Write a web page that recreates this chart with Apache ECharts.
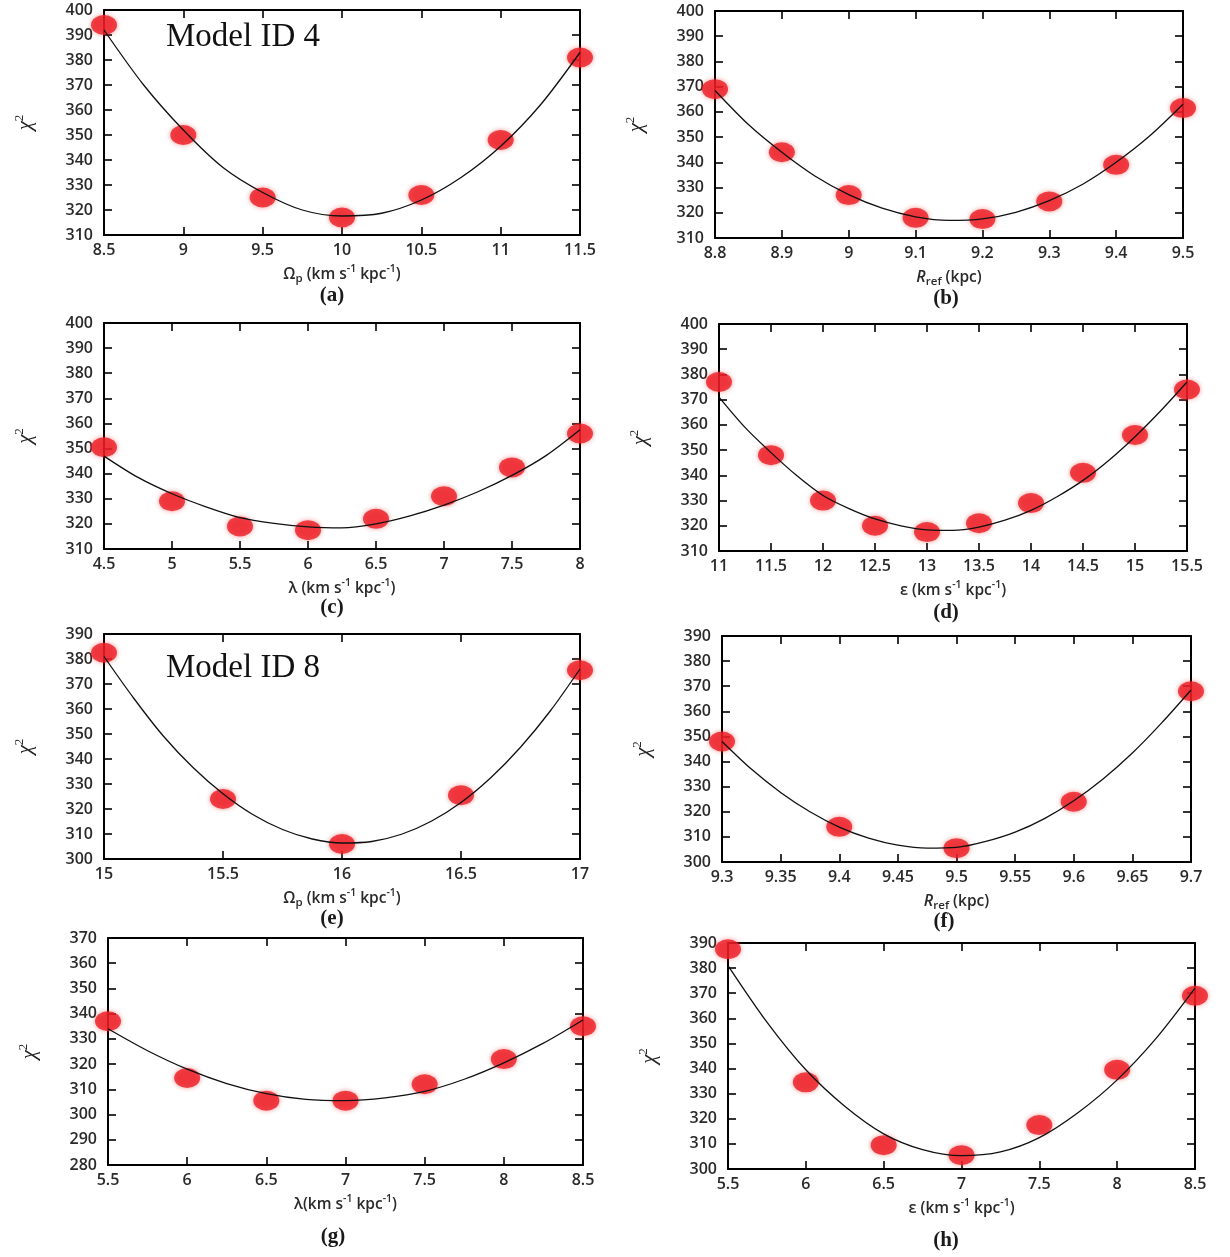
<!DOCTYPE html>
<html>
<head>
<meta charset="utf-8">
<script src="https://cdn.jsdelivr.net/npm/echarts@6/dist/echarts.min.js"></script>
<style>html,body{margin:0;padding:0;background:#fff}#c{width:1230px;height:1257px}</style>
</head>
<body>
<div id="c"></div>
<script>
// ---------- DATA ----------
// (a) Model ID 4, pattern speed
const aX = [8.5, 9, 9.5, 10, 10.5, 11, 11.5];
const aChi = [394, 350, 325, 317, 326, 348, 381];
const aFitX = [8.5, 8.75, 9, 9.25, 9.5, 9.75, 10, 10.25, 10.5, 10.75, 11, 11.25, 11.5];
const aFitY = [392, 370, 352, 337, 327, 320, 317.6, 318.7, 324, 333, 345.5, 362, 383];
// (b) Model ID 4, R_ref
const bX = [8.8, 8.9, 9.0, 9.1, 9.2, 9.3, 9.4, 9.5];
const bChi = [369, 344, 327, 318, 317.5, 324.5, 339, 361.5];
const bFitX = [8.8, 8.85, 8.9, 8.95, 9.0, 9.05, 9.1, 9.15, 9.2, 9.25, 9.3, 9.35, 9.4, 9.45, 9.5];
const bFitY = [368.5, 355, 344, 334.5, 327.2, 321.8, 318.4, 317, 317.6, 320.2, 324.8, 331.3, 340, 350.4, 363];
// (c) Model ID 4, lambda
const cX = [4.5, 5, 5.5, 6, 6.5, 7, 7.5, 8];
const cChi = [350.5, 329, 319, 317.5, 322, 331, 342.5, 356];
const cFitX = [4.5, 4.75, 5, 5.25, 5.5, 5.75, 6, 6.25, 6.5, 6.75, 7, 7.25, 7.5, 7.75, 8];
const cFitY = [347, 338.5, 332, 326.8, 322.5, 320.2, 318.8, 318.4, 320, 323.2, 327.5, 332.8, 339.3, 347.2, 357.5];
// (d) Model ID 4, epsilon
const dX = [11, 11.5, 12, 12.5, 13, 13.5, 14, 14.5, 15, 15.5];
const dChi = [377, 348, 330, 320, 317.5, 321, 329, 341, 356, 374];
const dFitX = [11, 11.25, 11.5, 11.75, 12, 12.25, 12.5, 12.75, 13, 13.25, 13.5, 13.75, 14, 14.25, 14.5, 14.75, 15, 15.25, 15.5];
const dFitY = [371, 359, 349, 339.8, 332, 326.8, 322.7, 320, 318.4, 318.2, 319.5, 322.2, 326.1, 331.5, 338, 346, 355.3, 365.7, 377];
// (e) Model ID 8, pattern speed
const eX = [15, 15.5, 16, 16.5, 17];
const eChi = [382.5, 324, 306, 325.5, 375.5];
const eFitX = [15, 15.125, 15.25, 15.375, 15.5, 15.625, 15.75, 15.875, 16, 16.125, 16.25, 16.375, 16.5, 16.625, 16.75, 16.875, 17];
const eFitY = [381, 364.3, 349.1, 336.5, 326.1, 317.8, 311.8, 308, 306.4, 307, 309.9, 315.1, 322.6, 332.5, 344.7, 359.2, 376];
// (f) Model ID 8, R_ref
const fX = [9.3, 9.4, 9.5, 9.6, 9.7];
const fChi = [348, 314, 305.5, 324, 368];
const fFitX = [9.3, 9.325, 9.35, 9.375, 9.4, 9.425, 9.45, 9.475, 9.5, 9.525, 9.55, 9.575, 9.6, 9.625, 9.65, 9.675, 9.7];
const fFitY = [348, 337, 327.7, 320, 313.9, 309.5, 306.7, 305.5, 305.8, 308.2, 311.9, 317.3, 324.4, 333.1, 343.4, 355.4, 368.5];
// (g) Model ID 8, lambda
const gX = [5.5, 6, 6.5, 7, 7.5, 8, 8.5];
const gChi = [337, 314.5, 305.5, 305.5, 312, 322, 335];
const gFitX = [5.5, 5.75, 6, 6.25, 6.5, 6.75, 7, 7.25, 7.5, 7.75, 8, 8.25, 8.5];
const gFitY = [334, 325.3, 318, 312.3, 308.3, 306, 305.5, 306.6, 309.2, 314, 320.5, 328.3, 337.5];
// (h) Model ID 8, epsilon
const hX = [5.5, 6, 6.5, 7, 7.5, 8, 8.5];
const hChi = [387.5, 334.5, 309.5, 305.5, 317.5, 339.5, 369];
const hFitX = [5.5, 5.75, 6, 6.25, 6.5, 6.75, 7, 7.25, 7.5, 7.75, 8, 8.25, 8.5];
const hFitY = [381, 358.5, 339.5, 325, 314, 307.7, 305.3, 306.8, 312.5, 322.5, 335.5, 352, 372];

// axis ranges (tick labels)
const xMin = [8.5, 8.8, 4.5, 11, 15, 9.3, 5.5, 5.5];
const xMax = [11.5, 9.5, 8, 15.5, 17, 9.7, 8.5, 8.5];
const xStep = [0.5, 0.1, 0.5, 0.5, 0.5, 0.05, 0.5, 0.5];
const yMin = [310, 310, 310, 310, 300, 300, 280, 300];
const yMax = [400, 400, 400, 400, 390, 390, 370, 390];
const yStep = [10, 10, 10, 10, 10, 10, 10, 10];

const xNames = [
  '{n|Ω}{sub|p}{n| (km s}{sup|-1}{n| kpc}{sup|-1}{n|)}',
  '{it|R}{sub|ref}{n| (kpc)}',
  '{n|λ (km s}{sup|-1}{n| kpc}{sup|-1}{n|)}',
  '{n|ε (km s}{sup|-1}{n| kpc}{sup|-1}{n|)}',
  '{n|Ω}{sub|p}{n| (km s}{sup|-1}{n| kpc}{sup|-1}{n|)}',
  '{it|R}{sub|ref}{n| (kpc)}',
  '{n|λ(km s}{sup|-1}{n| kpc}{sup|-1}{n|)}',
  '{n|ε (km s}{sup|-1}{n| kpc}{sup|-1}{n|)}'
];
const panelLabels = ['(a)', '(b)', '(c)', '(d)', '(e)', '(f)', '(g)', '(h)'];
const modelLabels = ['Model ID 4', 'Model ID 8'];

const ptsX = [aX, bX, cX, dX, eX, fX, gX, hX];
const ptsY = [aChi, bChi, cChi, dChi, eChi, fChi, gChi, hChi];
const fitX = [aFitX, bFitX, cFitX, dFitX, eFitX, fFitX, gFitX, hFitX];
const fitY = [aFitY, bFitY, cFitY, dFitY, eFitY, fFitY, gFitY, hFitY];

// ---------- LAYOUT ----------
const boxes = [
  [104, 10, 476, 225], [715, 11, 468, 227],
  [104, 323, 476, 226], [719, 324, 468, 227],
  [104, 634, 476, 225], [722, 636, 469, 226],
  [108, 938, 475, 227], [728, 943, 467, 226]
];
const labelPos = [[332, 285], [946, 288], [332, 597], [946, 602], [332, 908], [944, 911], [333, 1226], [946, 1230]];

const tickFont = {fontFamily: 'Open Sans', fontSize: 16, fontWeight: 600, color: '#2a2a2a'};
const base = {fontFamily: 'Open Sans', fontWeight: 600, color: '#2a2a2a'};
const nameRich = {
  n: Object.assign({fontSize: 15.5}, base),
  it: Object.assign({fontSize: 16, fontStyle: 'italic'}, base),
  sub: Object.assign({fontSize: 11.5, padding: [9, 0, 0, 0]}, base),
  sup: Object.assign({fontSize: 10.5, padding: [0, 0, 10, 0]}, base)
};

const grid = [], xAxis = [], yAxis = [], series = [], graphic = [];
const lineStyle = {color: '#000', width: 2};
boxes.forEach((b, i) => {
  grid.push({left: b[0], top: b[1], width: b[2], height: b[3], containLabel: false});
  const tick = {show: true, inside: true, length: 8, lineStyle: {color: '#000', width: 1.6}};
  const xBase = {type: 'value', gridIndex: i, min: xMin[i], max: xMax[i], interval: xStep[i],
    splitLine: {show: false}, axisLine: {show: true, onZero: false, lineStyle}, axisTick: tick};
  const yBase = {type: 'value', gridIndex: i, min: yMin[i], max: yMax[i], interval: yStep[i],
    splitLine: {show: false}, axisLine: {show: true, onZero: false, lineStyle}, axisTick: tick};
  xAxis.push(Object.assign({}, xBase, {position: 'bottom',
    axisLabel: Object.assign({margin: 7, showMinLabel: true, showMaxLabel: true, hideOverlap: false}, tickFont),
    name: xNames[i], nameLocation: 'middle', nameGap: 29,
    nameTextStyle: {rich: nameRich}}));
  xAxis.push(Object.assign({}, xBase, {position: 'top', axisLabel: {show: false}}));
  yAxis.push(Object.assign({}, yBase, {position: 'left',
    axisLabel: Object.assign({margin: 11, showMinLabel: true, showMaxLabel: true}, tickFont),
    name: '{c|χ}{s|2}', nameLocation: 'middle', nameRotate: 90, nameGap: 66,
    nameTextStyle: {rich: {c: {fontFamily: 'Liberation Serif', fontStyle: 'italic', fontSize: 21, color: '#222'},
      s: {fontFamily: 'Liberation Serif', fontSize: 13, color: '#222', padding: [0, 0, 12, 0]}}}}));
  yAxis.push(Object.assign({}, yBase, {position: 'right', axisLabel: {show: false}}));

  series.push({type: 'line', xAxisIndex: 2 * i, yAxisIndex: 2 * i, smooth: 0.3, showSymbol: false,
    symbol: 'none', lineStyle: {color: '#111', width: 1.3}, z: 3, silent: true,
    data: fitX[i].map((x, k) => [x, fitY[i][k]])});
  series.push({type: 'scatter', xAxisIndex: 2 * i, yAxisIndex: 2 * i, clip: false,
    symbol: 'circle', symbolSize: [26, 20], z: 2, silent: true,
    itemStyle: {color: '#ec1c24', shadowBlur: 5, shadowColor: 'rgba(240,40,40,0.6)'},
    data: ptsX[i].map((x, k) => [x, ptsY[i][k]])});

  graphic.push({type: 'text', x: labelPos[i][0], y: labelPos[i][1],
    style: {text: panelLabels[i], font: 'bold 21px "Liberation Serif"', fill: '#1a1a1a', textAlign: 'center'}});
});
graphic.push({type: 'text', left: 166, top: 21, style: {text: modelLabels[0], font: '33px "Liberation Serif"', fill: '#111'}});
graphic.push({type: 'text', left: 166, top: 652, style: {text: modelLabels[1], font: '33px "Liberation Serif"', fill: '#111'}});

const chart = echarts.init(document.getElementById('c'), null, {renderer: 'canvas'});
chart.setOption({animation: false, backgroundColor: '#fff', grid, xAxis, yAxis, series, graphic});
</script>
</body>
</html>
